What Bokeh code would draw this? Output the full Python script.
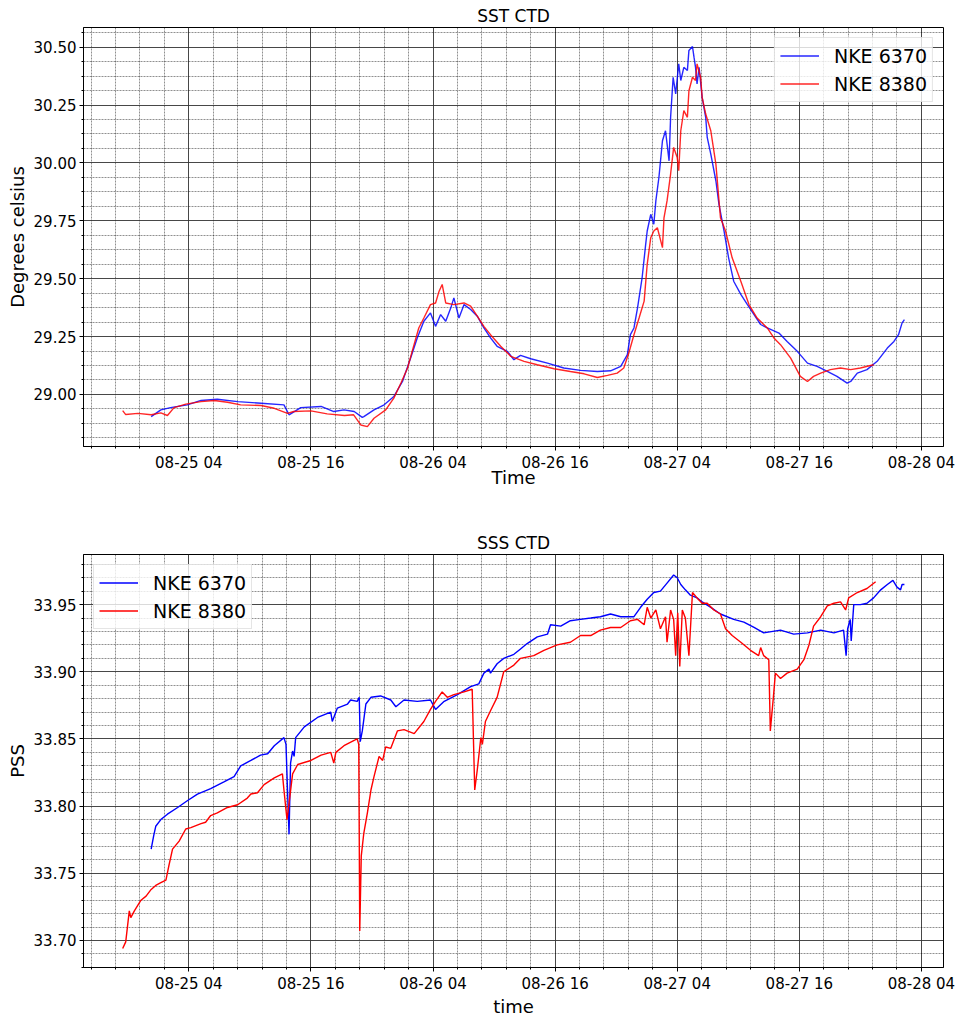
import pandas as pd
from bokeh.plotting import figure
from bokeh.layouts import column
from bokeh.models import (Range1d, FixedTicker, DatetimeTickFormatter, PrintfTickFormatter,
                          Legend, LegendItem)
from bokeh.embed import file_html
from bokeh.resources import INLINE

# Reference time for the hour offsets below
START = pd.Timestamp("2018-08-25 00:00")

# ---------------- Sea surface temperature (deg C) ----------------
sst_6370_hours = [
    0.3, 1.25, 2.2, 3.85, 5.2, 6.8, 8.8, 11.1, 13.35, 13.85,
    15.0, 17.0, 18.25, 19.25, 20.25, 21.05, 21.2, 22.2, 23.2, 24.15,
    25.0, 25.8, 26.45, 27.1, 27.75, 28.25, 28.75, 29.25, 29.75, 30.05,
    30.55, 31.05, 31.7, 32.35, 33.0, 33.65, 34.3, 35.3, 35.95, 36.6,
    37.6, 39.25, 40.85, 42.5, 44.15, 45.45, 46.45, 47.1, 47.4, 47.75,
    48.1, 48.55, 48.9, 49.05, 49.4, 49.7, 49.9, 50.2, 50.55, 50.85,
    51.2, 51.35, 51.6, 51.85, 52.15, 52.35, 52.65, 53.0, 53.15, 53.5,
    53.65, 53.8, 53.95, 54.15, 54.45, 54.8, 54.95, 55.3, 55.8, 56.1,
    56.6, 57.05, 57.55, 58.25, 58.9, 59.55, 60.2, 60.85, 62.0, 62.8,
    63.8, 64.8, 65.75, 66.75, 67.7, 68.7, 69.05, 69.7, 70.65, 71.65,
    72.65, 73.3, 73.75, 74.1, 74.33,
]
sst_6370_degc = [
    28.904, 28.933, 28.943, 28.955, 28.974, 28.979, 28.969, 28.962, 28.955, 28.912,
    28.943, 28.948, 28.926, 28.933, 28.926, 28.901, 28.904, 28.933, 28.955, 28.991,
    29.056, 29.157, 29.244, 29.316, 29.352, 29.294, 29.345, 29.316, 29.374, 29.417,
    29.330, 29.388, 29.367, 29.338, 29.287, 29.244, 29.208, 29.186, 29.150, 29.169,
    29.154, 29.135, 29.114, 29.104, 29.099, 29.102, 29.121, 29.172, 29.258, 29.287,
    29.374, 29.504, 29.648, 29.706, 29.778, 29.735, 29.836, 29.937, 30.096, 30.139,
    30.009, 30.197, 30.370, 30.298, 30.428, 30.356, 30.413, 30.399, 30.486, 30.503,
    30.457, 30.413, 30.341, 30.413, 30.283, 30.197, 30.110, 30.038, 29.923, 29.822,
    29.706, 29.590, 29.489, 29.432, 29.388, 29.345, 29.302, 29.287, 29.265, 29.229,
    29.186, 29.135, 29.121, 29.099, 29.078, 29.049, 29.056, 29.092, 29.107, 29.143,
    29.200, 29.229, 29.258, 29.309, 29.323,
]

sst_8380_hours = [
    -2.5, -2.2, -1.0, 0.3, 1.25, 1.9, 2.55, 3.7, 5.2, 6.5,
    7.8, 9.1, 11.1, 12.4, 13.7, 14.3, 16.0, 17.6, 19.3, 20.2,
    20.9, 21.55, 22.2, 23.35, 24.15, 24.85, 25.5, 25.95, 26.6, 27.1,
    27.75, 28.25, 28.6, 28.9, 29.25, 30.05, 31.05, 31.7, 32.35, 33.0,
    33.65, 34.65, 35.65, 36.95, 38.25, 39.9, 41.5, 42.85, 44.15, 45.15,
    46.1, 46.75, 47.25, 47.75, 48.25, 48.75, 49.05, 49.4, 49.7, 50.05,
    50.55, 50.7, 51.0, 51.35, 51.65, 52.0, 52.15, 52.35, 52.65, 53.0,
    53.15, 53.5, 53.8, 53.95, 54.3, 54.45, 54.8, 55.3, 55.8, 56.25,
    56.75, 57.4, 58.25, 59.05, 59.85, 60.85, 61.5, 62.15, 63.15, 64.1,
    64.8, 65.4, 66.1, 67.05, 68.05, 69.05, 70.0, 71.3,
]
sst_8380_degc = [
    28.930, 28.913, 28.918, 28.912, 28.920, 28.909, 28.943, 28.958, 28.969, 28.974,
    28.966, 28.955, 28.952, 28.940, 28.918, 28.926, 28.929, 28.916, 28.909, 28.912,
    28.868, 28.861, 28.897, 28.933, 28.984, 29.049, 29.114, 29.186, 29.287, 29.330,
    29.388, 29.395, 29.446, 29.475, 29.395, 29.388, 29.395, 29.381, 29.338, 29.294,
    29.258, 29.208, 29.164, 29.143, 29.128, 29.111, 29.099, 29.089, 29.073, 29.082,
    29.092, 29.114, 29.180, 29.258, 29.330, 29.403, 29.562, 29.677, 29.706, 29.720,
    29.634, 29.763, 29.836, 29.952, 30.067, 30.023, 29.966, 30.139, 30.226, 30.197,
    30.312, 30.370, 30.356, 30.428, 30.370, 30.283, 30.211, 30.139, 29.995, 29.763,
    29.706, 29.590, 29.489, 29.388, 29.330, 29.287, 29.244, 29.215, 29.157, 29.078,
    29.056, 29.078, 29.092, 29.107, 29.114, 29.107, 29.114, 29.128,
]

# ---------------- Sea surface salinity (PSS) ----------------
sss_6370_hours = [
    0.3, 0.55, 0.75, 1.25, 1.9, 2.9, 3.85, 4.85, 6.15, 7.45,
    8.45, 9.1, 10.1, 11.05, 11.75, 12.4, 13.35, 13.55, 13.7, 13.85,
    14.0, 14.2, 14.35, 14.5, 15.35, 16.65, 17.95, 18.1, 18.6, 19.6,
    19.9, 20.55, 20.75, 20.85, 21.05, 21.4, 21.9, 22.85, 23.85, 24.35,
    25.15, 26.45, 27.75, 28.25, 29.1, 30.4, 31.7, 32.5, 33.0, 33.5,
    33.65, 34.3, 34.95, 35.95, 36.6, 37.25, 38.25, 39.25, 39.55, 40.55,
    41.5, 42.5, 43.5, 44.45, 45.45, 46.45, 47.75, 48.4, 49.05, 49.7,
    50.35, 51.0, 51.65, 52.0, 52.35, 52.8, 53.3, 53.95, 54.45, 55.3,
    56.25, 57.55, 58.55, 59.55, 60.5, 62.15, 63.45, 64.8, 66.1, 67.4,
    68.35, 68.6, 68.75, 69.0, 69.1, 69.35, 70.0, 70.65, 71.3, 72.0,
    72.65, 73.2, 73.6, 73.95, 74.1, 74.33,
]
sss_6370_pss = [
    33.768, 33.778, 33.785, 33.790, 33.794, 33.799, 33.804, 33.809, 33.813, 33.818,
    33.822, 33.830, 33.834, 33.838, 33.839, 33.845, 33.851, 33.846, 33.812, 33.779,
    33.832, 33.841, 33.837, 33.851, 33.859, 33.866, 33.870, 33.863, 33.873, 33.876,
    33.879, 33.878, 33.881, 33.848, 33.856, 33.876, 33.881, 33.882, 33.879, 33.874,
    33.879, 33.878, 33.879, 33.872, 33.878, 33.883, 33.889, 33.891, 33.899, 33.902,
    33.899, 33.906, 33.910, 33.913, 33.917, 33.921, 33.926, 33.928, 33.935, 33.934,
    33.938, 33.939, 33.940, 33.941, 33.943, 33.941, 33.941, 33.948, 33.954, 33.959,
    33.960, 33.966, 33.972, 33.970, 33.965, 33.961, 33.957, 33.955, 33.952, 33.948,
    33.943, 33.939, 33.937, 33.933, 33.929, 33.931, 33.928, 33.929, 33.931, 33.929,
    33.931, 33.912, 33.932, 33.939, 33.923, 33.950, 33.950, 33.951, 33.955, 33.961,
    33.965, 33.968, 33.963, 33.961, 33.965, 33.965,
]

sss_8380_hours = [
    -2.5, -2.2, -1.85, -1.7, -1.35, -0.7, -0.2, 0.3, 0.75, 1.25,
    1.75, 2.05, 2.4, 3.05, 3.7, 4.2, 5.2, 5.65, 6.15, 6.8,
    7.8, 8.8, 9.75, 10.1, 10.75, 11.4, 12.4, 13.2, 13.35, 13.65,
    13.85, 14.2, 14.7, 16.0, 17.0, 17.95, 18.25, 18.45, 19.25, 20.25,
    20.55, 20.7, 20.8, 20.95, 21.2, 21.55, 21.9, 22.2, 22.7, 23.05,
    23.35, 23.85, 24.5, 25.15, 26.15, 27.1, 27.75, 28.25, 28.9, 29.4,
    30.05, 31.05, 31.85, 32.1, 32.35, 32.7, 32.85, 33.15, 33.65, 34.3,
    34.95, 35.95, 36.6, 37.9, 38.9, 40.2, 41.5, 42.5, 43.5, 44.45,
    45.45, 46.45, 47.4, 48.1, 48.75, 49.05, 49.4, 49.9, 50.35, 50.85,
    51.0, 51.35, 51.65, 51.85, 52.05, 52.25, 52.5, 52.8, 53.15, 53.5,
    53.95, 54.45, 54.95, 55.6, 56.25, 56.75, 57.4, 58.25, 59.2, 60.0,
    60.2, 60.5, 61.0, 61.15, 61.45, 61.65, 62.15, 62.8, 63.8, 64.45,
    64.95, 65.4, 66.1, 66.75, 67.4, 68.05, 68.55, 68.85, 69.7, 70.65,
    71.5,
]
sss_8380_pss = [
    33.694, 33.699, 33.722, 33.717, 33.722, 33.730, 33.733, 33.738, 33.741, 33.743,
    33.745, 33.756, 33.768, 33.774, 33.783, 33.784, 33.787, 33.788, 33.793, 33.795,
    33.799, 33.801, 33.806, 33.809, 33.810, 33.816, 33.821, 33.824, 33.812, 33.790,
    33.802, 33.824, 33.831, 33.834, 33.838, 33.840, 33.832, 33.840, 33.845, 33.849,
    33.850, 33.846, 33.707, 33.763, 33.780, 33.795, 33.812, 33.822, 33.837, 33.834,
    33.844, 33.843, 33.856, 33.857, 33.854, 33.863, 33.872, 33.878, 33.885, 33.881,
    33.883, 33.885, 33.887, 33.812, 33.827, 33.851, 33.846, 33.863, 33.871, 33.881,
    33.900, 33.905, 33.910, 33.912, 33.916, 33.920, 33.922, 33.927, 33.927, 33.931,
    33.933, 33.933, 33.938, 33.939, 33.935, 33.948, 33.940, 33.946, 33.932, 33.941,
    33.922, 33.946, 33.939, 33.912, 33.944, 33.904, 33.946, 33.940, 33.912, 33.959,
    33.955, 33.951, 33.951, 33.946, 33.943, 33.932, 33.927, 33.922, 33.916, 33.912,
    33.918, 33.912, 33.909, 33.856, 33.881, 33.899, 33.895, 33.899, 33.902, 33.909,
    33.920, 33.934, 33.941, 33.949, 33.951, 33.952, 33.946, 33.955, 33.959, 33.962,
    33.967,
]

# Axis settings
x_hours_range = (-6.35, 78.17)
x_major_hours = [4, 16, 28, 40, 52, 64, 76]          # 04:00 and 16:00 each day
sst_range = (28.775, 30.585)
sst_major = [29.00, 29.25, 29.50, 29.75, 30.00, 30.25, 30.50]
sss_range = (33.6799, 33.9873)
sss_major = [33.70, 33.75, 33.80, 33.85, 33.90, 33.95]

FONT = "DejaVu Sans"


def to_times(hours):
    return START + pd.to_timedelta(hours, unit="h")


def to_ms(h):
    return (START + pd.Timedelta(hours=h)).value / 1e6


def minor_steps(lo, hi, major, step):
    vals = []
    k = 0
    base = major[0]
    while base - k * step >= lo:
        k += 1
    v = base - (k - 1) * step
    while v <= hi + 1e-9:
        if all(abs(v - m) > 1e-6 for m in major):
            vals.append(round(v, 6))
        v += step
    return vals


x_minor_hours = minor_steps(x_hours_range[0], x_hours_range[1], x_major_hours, 2.4)


def build(title, xlabel, ylabel, yr, ymajor, ystep, series, height, top, bottom,
          legend_loc, xlabel_standoff):
    p = figure(width=960, height=height, x_axis_type="datetime",
               output_backend="svg", toolbar_location=None,
               x_range=Range1d(to_ms(x_hours_range[0]), to_ms(x_hours_range[1])),
               y_range=Range1d(*yr),
               min_border_left=83, min_border_right=17,
               min_border_top=top, min_border_bottom=bottom)
    p.title.text = title
    p.title.align = "center"
    p.title.text_font = FONT
    p.title.text_font_size = "17px"
    p.title.text_font_style = "normal"
    p.title.text_color = "black"
    p.title.standoff = 3

    p.xaxis.ticker = FixedTicker(ticks=[to_ms(h) for h in x_major_hours],
                                 minor_ticks=[to_ms(h) for h in x_minor_hours])
    fmt = "%m-%d %H"
    p.xaxis.formatter = DatetimeTickFormatter(
        milliseconds=fmt, seconds=fmt, minsec=fmt, minutes=fmt, hourmin=fmt,
        hours=fmt, days=fmt, months=fmt, years=fmt)
    p.yaxis.ticker = FixedTicker(ticks=ymajor,
                                 minor_ticks=minor_steps(yr[0], yr[1], ymajor, ystep))
    p.yaxis.formatter = PrintfTickFormatter(format="%.2f")

    p.xaxis.axis_label = xlabel
    p.yaxis.axis_label = ylabel
    for ax in (p.xaxis, p.yaxis):
        ax.axis_label_text_font = FONT
        ax.axis_label_text_font_size = "18px"
        ax.axis_label_text_font_style = "normal"
        ax.axis_label_text_color = "black"
        ax.axis_label_standoff = 3
        ax.major_label_text_font = FONT
        ax.major_label_text_font_size = "15px"
        ax.major_label_text_color = "black"
        ax.major_label_standoff = 3
        ax.major_tick_out = 4
        ax.major_tick_in = 0
        ax.minor_tick_out = 2
        ax.minor_tick_in = 0
        ax.axis_line_color = "black"
        ax.major_tick_line_color = "black"
        ax.minor_tick_line_color = "black"
    p.xaxis.axis_label_standoff = xlabel_standoff

    for g in (p.xgrid, p.ygrid):
        g.grid_line_color = "#333333"
        g.grid_line_width = 1.0
        g.grid_line_alpha = 0.9
        g.minor_grid_line_color = "#000000"
        g.minor_grid_line_dash = "2 1"
        g.minor_grid_line_width = 0.8
        g.minor_grid_line_alpha = 0.55

    p.outline_line_color = "black"
    p.outline_line_width = 1
    p.background_fill_color = "white"
    p.border_fill_color = "white"

    items = []
    for label, hours, vals, color, alpha in series:
        r = p.line(to_times(hours), vals, line_color=color, line_width=1.4, line_alpha=alpha)
        items.append(LegendItem(label=label, renderers=[r]))

    legend = Legend(items=items, location=legend_loc)
    legend.label_text_font = FONT
    legend.label_text_font_size = "19px"
    legend.label_text_color = "black"
    legend.glyph_width = 39
    legend.glyph_height = 25
    legend.label_height = 25
    legend.label_standoff = 15
    legend.padding = 5
    legend.spacing = 3
    legend.margin = 10
    legend.border_line_color = "#cccccc"
    legend.border_line_width = 1
    legend.background_fill_alpha = 0.8
    p.add_layout(legend)
    return p


top = build("SST CTD", "Time", "Degrees celsius", sst_range, sst_major, 0.0625,
            [("NKE 6370", sst_6370_hours, sst_6370_degc, "#0000ff", 0.85),
             ("NKE 8380", sst_8380_hours, sst_8380_degc, "#ff0000", 0.85)],
            height=500, top=27, bottom=54, legend_loc="top_right", xlabel_standoff=-8)

bottom = build("SSS CTD", "time", "PSS", sss_range, sss_major, 0.01,
               [("NKE 6370", sss_6370_hours, sss_6370_pss, "#0000ff", 1.0),
                ("NKE 8380", sss_8380_hours, sss_8380_pss, "#ff0000", 1.0)],
               height=519, top=54, bottom=45, legend_loc="top_left", xlabel_standoff=0)

layout = column(top, bottom)
open("out.html", "w").write(file_html(layout, INLINE))
